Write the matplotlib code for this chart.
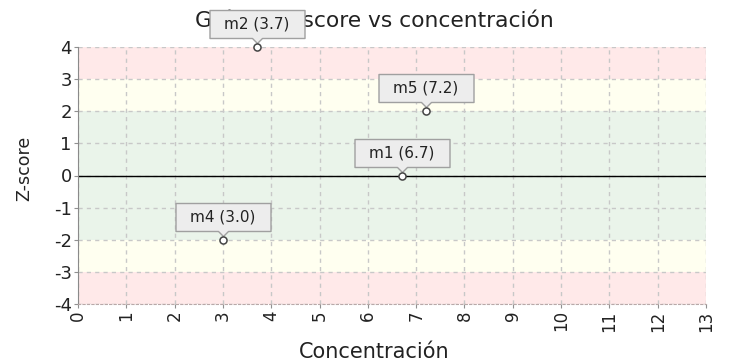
import matplotlib
matplotlib.use("Agg")
import matplotlib.pyplot as plt
from matplotlib.path import Path

plt.rcParams["axes.unicode_minus"] = False

# data
labels = ["m1", "m2", "m4", "m5"]
conc = [6.7, 3.7, 3.0, 7.2]
zscore = [0.0, 4.0, -2.0, 2.0]
xticks = list(range(0, 14))
yticks = list(range(-4, 5))
bands = [(-4, -3, "#ffe9e9"), (-3, -2, "#fffff0"), (-2, 2, "#eaf4ea"),
         (2, 3, "#fffff0"), (3, 4, "#ffe9e9")]

fig = plt.figure(figsize=(7.29, 3.62), dpi=100)
ax = fig.add_axes([78/729, 1-304/362, (706-78)/729, (304-47)/362])

for lo, hi, c in bands:
    ax.axhspan(lo, hi, color=c, lw=0, zorder=0)

ax.set_xlim(0, 13)
ax.set_ylim(-4, 4)
ax.set_xticks(xticks)
ax.set_yticks(yticks)
ax.grid(True, color="#c8c8c8", linestyle=(0, (3, 3)), lw=1, zorder=1)
ax.set_axisbelow(True)
ax.axhline(0, color="black", lw=1, zorder=2)

for s in ["top", "right"]:
    ax.spines[s].set_visible(False)
ax.spines["left"].set_color("#8a8a8a")
ax.spines["bottom"].set_color("#b8a8a8")
ax.spines["bottom"].set_linestyle((0, (2, 2)))
ax.tick_params(axis="both", length=3, color="#909090", pad=1.5, labelcolor="#222222")
ax.tick_params(axis="y", labelsize=13)
ax.tick_params(axis="x", labelsize=12, labelrotation=90)

# callout shape (pixels relative to the point, y up)
verts = [(-47.5, 9), (-5, 9), (0, 4), (5, 9), (47.5, 9), (47.5, 37), (-47.5, 37), (-47.5, 9)]
codes = [Path.MOVETO] + [Path.LINETO] * 6 + [Path.CLOSEPOLY]
callout = Path(verts, codes)
ms_pt = 95 * 72 / 100

ax.plot(conc, zscore, ls="none", marker=callout, ms=ms_pt, mfc="#ededed",
        mec="#a0a0a0", mew=1, zorder=7, clip_on=False)
ax.scatter(conc, zscore, s=26, facecolor="white", edgecolor="#444444",
           lw=1.1, zorder=9, clip_on=False)

for lab, x, y in zip(labels, conc, zscore):
    ax.annotate(f"{lab} ({x:.1f})", (x, y), xytext=(0, 23 * 0.72), textcoords="offset points",
                ha="center", va="center", fontsize=11, color="#222222",
                family="DejaVu Sans", zorder=8, annotation_clip=False)

fig.text(374.5/729, 1-21/362, "Gráfico Z-score vs concentración", ha="center", va="center",
         fontsize=15.7, family="DejaVu Sans", color="#222222", zorder=-1)
fig.text(24/729, 1-168/362, "Z-score", rotation=90, ha="center", va="center",
         fontsize=12.5, family="DejaVu Sans", color="#222222")
fig.text(374/729, 1-352/362, "Concentración", ha="center", va="center",
         fontsize=15, family="DejaVu Sans", color="#222222")

fig.savefig("out.png", dpi=100)
